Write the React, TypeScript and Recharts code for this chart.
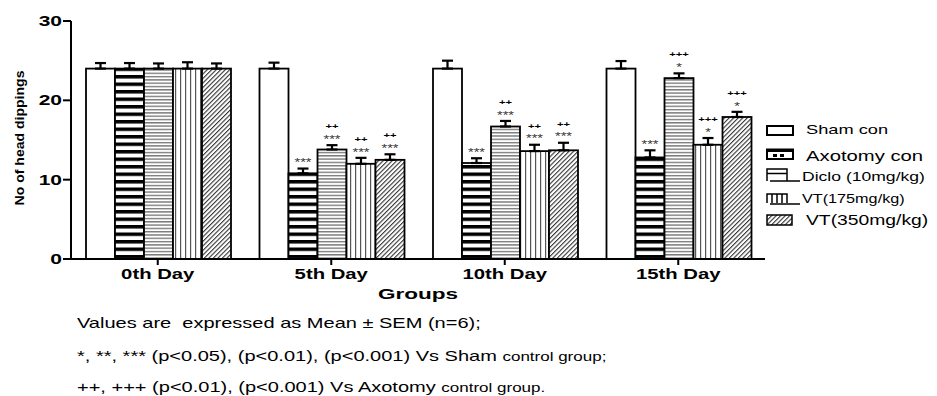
import React from "react"
import { BarChart, Bar, XAxis, YAxis, ErrorBar } from "recharts"

const days = ["0th Day", "5th Day", "10th Day", "15th Day"]

const sham = [24.0, 24.0, 24.0, 24.0]
const shamSem = [0.7, 0.75, 1.0, 0.95]
const axotomy = [24.0, 10.8, 12.1, 12.8]
const axotomySem = [0.7, 0.6, 0.6, 0.9]
const diclo = [24.0, 13.8, 16.7, 22.8]
const dicloSem = [0.65, 0.55, 0.7, 0.6]
const vt175 = [24.0, 12.0, 13.6, 14.4]
const vt175Sem = [0.8, 0.75, 0.8, 0.85]
const vt350 = [24.0, 12.5, 13.7, 17.9]
const vt350Sem = [0.65, 0.7, 0.95, 0.65]

// significance vs sham (stars) and vs axotomy (plus signs)
const noMarks = ["", "", "", ""]
const axotomyStars = ["", "***", "***", "***"]
const dicloStars = ["", "***", "***", "*"]
const vt175Stars = ["", "***", "***", "*"]
const vt350Stars = ["", "***", "***", "*"]
const dicloPlus = ["", "++", "++", "+++"]
const vt175Plus = ["", "++", "++", "+++"]
const vt350Plus = ["", "++", "++", "+++"]

const yTicks = [0, 10, 20, 30]

const FONT = "Arial, 'Liberation Sans', sans-serif"

const series = [
  { key: "sham", name: "Sham con", values: sham, sem: shamSem, stars: noMarks, plus: noMarks, fill: "#fff" },
  { key: "axo", name: "Axotomy con", values: axotomy, sem: axotomySem, stars: axotomyStars, plus: noMarks, fill: "url(#pAxo)" },
  { key: "diclo", name: "Diclo (10mg/kg)", values: diclo, sem: dicloSem, stars: dicloStars, plus: dicloPlus, fill: "url(#pDiclo)" },
  { key: "vt175", name: "VT(175mg/kg)", values: vt175, sem: vt175Sem, stars: vt175Stars, plus: vt175Plus, fill: "url(#pVt175)" },
  { key: "vt350", name: "VT(350mg/kg)", values: vt350, sem: vt350Sem, stars: vt350Stars, plus: vt350Plus, fill: "url(#pVt350)" },
]

const data = days.map((day, i) => {
  const row: any = { day }
  series.forEach((s) => {
    row[s.key] = s.values[i]
    row[s.key + "Err"] = [0, s.sem[i]]
    row[s.key + "Stars"] = s.stars[i]
    row[s.key + "Plus"] = s.plus[i]
  })
  return row
})

const barShape = (key: string) => (p: any) => {
  const { x, y, width, height, fill, payload } = p
  const v = payload[key]
  const sem = payload[key + "Err"][1]
  const capY = v ? y - (sem * height) / v : y
  const cx = x + width / 2
  const stars = payload[key + "Stars"]
  const plus = payload[key + "Plus"]
  return (
    <g>
      <rect x={x} y={y} width={width} height={height} fill={fill} stroke="#000" strokeWidth={1.8} />
      {stars ? (
        <text transform={`translate(${cx},${capY - 2.3}) scale(1.45,1)`} textAnchor="middle" fontSize={10} fill="#333" fontFamily={FONT}>
          {stars}
        </text>
      ) : null}
      {plus ? (
        <text transform={`translate(${cx},${capY - 16}) scale(1.4,1)`} textAnchor="middle" fontSize={8} fontWeight="bold" fill="#000" fontFamily={FONT}>
          {plus}
        </text>
      ) : null}
    </g>
  )
}

const XTick = (p: any) => (
  <text transform={`translate(${p.x},${p.y}) scale(1.45,1)`} textAnchor="middle" dy="0.71em" fontSize={14} fontWeight="bold" fontFamily={FONT} fill="#000">
    {p.payload.value}
  </text>
)

const YTick = (p: any) => (
  <text transform={`translate(${p.x},${p.y}) scale(1.5,1)`} textAnchor="end" dy="0.355em" fontSize={14} fontWeight="bold" fontFamily={FONT} fill="#000">
    {p.payload.value}
  </text>
)

const Txt = ({ x, y, size, sx = 1.38, bold = false, children }: any) => (
  <div
    style={{
      position: "absolute",
      left: x,
      top: y,
      fontSize: size,
      fontWeight: bold ? "bold" : "normal",
      fontFamily: FONT,
      lineHeight: 1,
      whiteSpace: "pre",
      transform: `translateY(-50%) scaleX(${sx})`,
      transformOrigin: "0 50%",
      color: "#000",
    }}
  >
    {children}
  </div>
)

const legendText = [
  { name: series[0].name, x: 806, y: 130.3, size: 13.5 },
  { name: series[1].name, x: 806, y: 154.7, size: 15 },
  { name: series[2].name, x: 801.7, y: 176.3, size: 13 },
  { name: series[3].name, x: 801.7, y: 199, size: 12 },
  { name: series[4].name, x: 806, y: 220.2, size: 14.3 },
]

export default function App() {
  return (
    <div style={{ position: "absolute", left: 0, top: 0, width: 937, height: 396, background: "#fff", overflow: "hidden" }}>
      <svg width={937} height={396} style={{ position: "absolute", left: 0, top: 0 }}>
        <defs>
          <pattern id="pAxo" width="8" height="7.5" patternUnits="userSpaceOnUse">
            <rect width="8" height="7.5" fill="#fff" />
            <rect width="8" height="3.5" fill="#000" />
          </pattern>
          <pattern id="pDiclo" width="8" height="3.3" patternUnits="userSpaceOnUse">
            <rect width="8" height="3.3" fill="#fff" />
            <rect width="8" height="1.4" fill="#7a7a7a" />
          </pattern>
          <pattern id="pVt175" width="5" height="8" patternUnits="userSpaceOnUse">
            <rect width="5" height="8" fill="#fff" />
            <rect width="1.2" height="8" fill="#555" />
          </pattern>
          <pattern id="pVt350" width="3.2" height="8" patternUnits="userSpaceOnUse" patternTransform="rotate(45)">
            <rect width="3.2" height="8" fill="#fff" />
            <rect width="1.1" height="8" fill="#333" />
          </pattern>
        </defs>
        {/* legend icons */}
        <rect x={767} y={126} width={26} height={9} fill="#fff" stroke="#000" strokeWidth={2} />
        <rect x={767} y={149.5} width={26} height={9.5} fill="#fff" stroke="#000" strokeWidth={2} />
        <rect x={767} y={149} width={26} height={3} fill="#000" />
        <rect x={773} y={154} width={4} height={3} fill="#000" />
        <rect x={780} y={154} width={4} height={3} fill="#000" />
        <path d="M767,181 V169 H787 V181 M767,173.5 H787 M770,181 H800" fill="none" stroke="#000" strokeWidth={1.5} />
        <path d="M767,203 V194 H787 V203 M772,194 V203 M777,194 V203 M782,194 V203 M770,204 H800" fill="none" stroke="#000" strokeWidth={1.5} />
        <rect x={767} y={215} width={25} height={10} fill="url(#pVt350)" stroke="#000" strokeWidth={1.5} />
      </svg>

      <div style={{ position: "absolute", left: 0, top: 0 }}>
        <BarChart width={937} height={300} data={data} margin={{ top: 21, right: 172, bottom: 11, left: 0 }} barCategoryGap={15} barGap={0}>
          <XAxis
            dataKey="day"
            height={30}
            tickSize={6}
            tickMargin={4}
            axisLine={{ stroke: "#000", strokeWidth: 2 }}
            tickLine={{ stroke: "#000", strokeWidth: 2 }}
            tick={XTick}
            interval={0}
          />
          <YAxis
            width={71}
            domain={[0, 30]}
            ticks={yTicks}
            tickSize={8}
            tickMargin={1}
            axisLine={{ stroke: "#000", strokeWidth: 2 }}
            tickLine={{ stroke: "#000", strokeWidth: 2 }}
            tick={YTick}
          />
          {series.map((s) => (
            <Bar key={s.key} dataKey={s.key} name={s.name} fill={s.fill} shape={barShape(s.key)} isAnimationActive={false}>
              <ErrorBar dataKey={s.key + "Err"} width={5.5} strokeWidth={2.2} stroke="#000" direction="y" />
            </Bar>
          ))}
        </BarChart>
      </div>

      <div
        style={{
          position: "absolute",
          left: 18.5,
          top: 137.5,
          fontSize: 13,
          fontWeight: "bold",
          fontFamily: FONT,
          lineHeight: 1,
          whiteSpace: "pre",
          transform: "translate(-50%,-50%) rotate(-90deg) scaleX(1.08)",
        }}
      >
        No of head dippings
      </div>

      <div
        style={{
          position: "absolute",
          left: 418,
          top: 293,
          fontSize: 15,
          fontWeight: "bold",
          fontFamily: FONT,
          lineHeight: 1,
          whiteSpace: "pre",
          transform: "translate(-50%,-50%) scaleX(1.5)",
        }}
      >
        Groups
      </div>

      {legendText.map((l) => (
        <Txt key={l.name} x={l.x} y={l.y} size={l.size} sx={1.35}>
          {l.name}
        </Txt>
      ))}

      <Txt x={77} y={323} size={14.5}>
        {"Values are  expressed as Mean \u00b1 SEM (n=6);"}
      </Txt>
      <Txt x={77} y={356} size={14.5}>
        {"*, **, *** (p<0.05), (p<0.01), (p<0.001) Vs Sham "}
        <span style={{ fontSize: "0.85em" }}>control group;</span>
      </Txt>
      <Txt x={77} y={387} size={14.5}>
        {"++, +++ (p<0.01), (p<0.001) Vs Axotomy "}
        <span style={{ fontSize: "0.85em" }}>control group.</span>
      </Txt>
    </div>
  )
}
